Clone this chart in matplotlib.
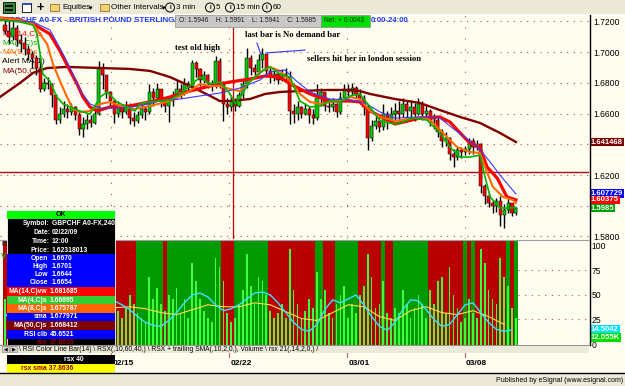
import matplotlib
matplotlib.use("Agg")
import matplotlib.pyplot as plt
from matplotlib.patches import Rectangle, Ellipse
from matplotlib.lines import Line2D

plt.rcParams['font.family'] = ['Liberation Sans', 'DejaVu Sans']

# ---------------- data ----------------
first_open = 1.7180
closes = [1.7140,1.7100,1.7160,1.7080,1.7060,1.7020,1.6990,1.6960,1.6900,1.6760,
          1.6800,1.6790,1.6720,1.6560,1.6600,1.6630,1.6610,1.6640,1.6590,1.6500,
          1.6530,1.6560,1.6540,1.6600,1.6900,1.6850,1.6740,1.6680,1.6600,1.6640,
          1.6610,1.6650,1.6570,1.6550,1.6590,1.6630,1.6610,1.6740,1.6700,1.6760,
          1.6680,1.6650,1.6680,1.6720,1.6760,1.6740,1.6790,1.6770,1.6930,1.6890,
          1.6820,1.6850,1.6800,1.6780,1.6940,1.6800,1.6660,1.6640,1.6680,1.6650,
          1.6720,1.6790,1.6960,1.6900,1.6870,1.6950,1.6990,1.6880,1.6840,1.6860,
          1.6820,1.6860,1.6840,1.6620,1.6600,1.6640,1.6600,1.6630,1.6590,1.6570,
          1.6700,1.6740,1.6650,1.6640,1.6660,1.6610,1.6700,1.6760,1.6740,1.6770,
          1.6730,1.6700,1.6640,1.6440,1.6520,1.6550,1.6510,1.6600,1.6560,1.6600,
          1.6620,1.6600,1.6660,1.6620,1.6640,1.6600,1.6660,1.6600,1.6620,1.6560,
          1.6560,1.6480,1.6420,1.6440,1.6340,1.6320,1.6360,1.6350,1.6370,1.6420,
          1.6380,1.6400,1.6130,1.6060,1.6020,1.6000,1.6030,1.5940,1.5970,1.6020,1.5950,1.5985]
highs = [1.7230,1.7200,1.7220,1.7180,1.7120,1.7100,1.7050,1.7010,1.6980,1.6982,
         1.6830,1.6840,1.6800,1.6730,1.6640,1.6680,1.6660,1.6670,1.6650,1.6620,
         1.6580,1.6600,1.6590,1.6640,1.6945,1.6930,1.6800,1.6750,1.6690,1.6680,
         1.6660,1.6680,1.6670,1.6610,1.6620,1.6660,1.6650,1.6790,1.6770,1.6800,
         1.6760,1.6700,1.6710,1.6750,1.6820,1.6790,1.6830,1.6810,1.6950,1.6945,
         1.6900,1.6880,1.6860,1.6820,1.6975,1.6960,1.6810,1.6700,1.6720,1.6700,
         1.6740,1.6820,1.7030,1.6980,1.6920,1.6990,1.7030,1.6990,1.6900,1.6890,
         1.6870,1.6890,1.6900,1.6880,1.6660,1.6680,1.6650,1.6670,1.6650,1.6630,
         1.6790,1.6770,1.6740,1.6680,1.6700,1.6670,1.6740,1.6790,1.6790,1.6800,
         1.6780,1.6760,1.6720,1.6660,1.6560,1.6600,1.6580,1.6660,1.6620,1.6640,
         1.6670,1.6680,1.6700,1.6680,1.6690,1.6670,1.6700,1.6680,1.6660,1.6630,
         1.6600,1.6570,1.6500,1.6480,1.6450,1.6370,1.6380,1.6380,1.6390,1.6440,
         1.6440,1.6430,1.6410,1.6140,1.6080,1.6040,1.6050,1.6060,1.6010,1.6050,1.6010,1.5991]
lows = [1.7120,1.7060,1.7080,1.7040,1.7000,1.6980,1.6950,1.6900,1.6850,1.6740,
        1.6750,1.6760,1.6640,1.6530,1.6540,1.6580,1.6570,1.6590,1.6560,1.6460,
        1.6450,1.6500,1.6510,1.6530,1.6590,1.6760,1.6700,1.6640,1.6540,1.6580,
        1.6570,1.6600,1.6530,1.6520,1.6540,1.6570,1.6560,1.6600,1.6650,1.6690,
        1.6640,1.6610,1.6545,1.6650,1.6700,1.6700,1.6720,1.6740,1.6760,1.6840,
        1.6780,1.6800,1.6770,1.6750,1.6770,1.6770,1.6550,1.6600,1.6620,1.6620,
        1.6640,1.6700,1.6770,1.6850,1.6830,1.6860,1.6900,1.6850,1.6800,1.6810,
        1.6790,1.6810,1.6810,1.6530,1.6540,1.6560,1.6570,1.6590,1.6540,1.6530,
        1.6560,1.6650,1.6620,1.6610,1.6620,1.6580,1.6600,1.6680,1.6700,1.6720,
        1.6700,1.6660,1.6590,1.6360,1.6420,1.6500,1.6480,1.6490,1.6500,1.6540,
        1.6560,1.6560,1.6580,1.6560,1.6570,1.6550,1.6590,1.6560,1.6570,1.6520,
        1.6500,1.6450,1.6380,1.6390,1.6300,1.6250,1.6300,1.6310,1.6330,1.6340,
        1.6340,1.6360,1.6080,1.6010,1.5990,1.5950,1.5960,1.5870,1.5855,1.5950,1.5930,1.5941]

ma14_bar = [-1.3,3.8,7.2,11.5,14.1,16.7,18.5,20.0,21.8,23.6,26.9,32.0,37.2,42.3,47.4,52.6,57.7,62.8,66.7,70.5,
            73.1,78.2,83.3,88.5,91.0,93.6,100.0,106.4,111.5,114.1,116.7,119.2,121.8,123.6,126.2,128.7,131.0]
ma14_val = [1.7223,1.7210,1.7184,1.7119,1.7008,1.6878,1.6793,1.6708,1.6643,1.6617,1.6643,1.6650,1.6676,1.6708,1.6747,1.6780,1.6806,1.6825,1.6845,1.6838,
            1.6793,1.6728,1.6682,1.6682,1.6676,1.6617,1.6532,1.6571,1.6578,1.6545,1.6474,1.6408,1.6376,1.6252,1.6180,1.6057,1.6038]
ma8_bar = [-1.3,3.8,7.2,10.8,12.3,14.1,15.9,17.4,19.2,21.8,24.4,26.9,29.5,33.3,37.2,42.3,47.4,50.0,52.6,55.1,
           57.7,60.3,62.8,65.4,67.9,70.5,73.1,75.6,78.2,80.8,83.3,85.9,88.5,91.0,93.6,96.2,100.0,106.4,109.0,112.3,
           115.9,119.2,121.8,123.1,125.1,127.7,130.3,131.0]
ma8_val = [1.7223,1.7210,1.7184,1.7053,1.6923,1.6812,1.6708,1.6630,1.6610,1.6617,1.6663,1.6676,1.6650,1.6630,1.6650,1.6682,1.6747,1.6793,1.6780,1.6780,
           1.6760,1.6747,1.6806,1.6871,1.6904,1.6878,1.6812,1.6728,1.6676,1.6663,1.6676,1.6682,1.6708,1.6695,1.6617,1.6578,1.6552,1.6578,1.6558,1.6474,
           1.6382,1.6350,1.6343,1.6252,1.6122,1.6057,1.6037,1.6018]
ma4_bar = [-1.3,3.8,7.2,8.2,9.0,9.7,11.5,13.3,14.9,16.7,19.2,21.8,24.4,26.2,28.7,31.3,33.3,34.6,37.2,39.7,
           42.3,44.9,47.4,50.0,52.6,55.1,57.7,59.0,60.3,62.8,66.7,67.9,70.5,73.1,75.6,78.2,80.8,83.3,85.9,88.5,
           91.0,93.6,96.2,100.0,101.3,104.6,108.2,111.5,114.1,116.7,119.2,121.8,123.1,124.4,126.9,129.5,131.0]
ma4_val = [1.7210,1.7197,1.7177,1.7119,1.6988,1.6858,1.6812,1.6708,1.6663,1.6643,1.6617,1.6597,1.6708,1.6741,1.6676,1.6643,1.6617,1.6663,1.6676,1.6682,
           1.6689,1.6728,1.6780,1.6838,1.6793,1.6806,1.6728,1.6663,1.6708,1.6812,1.6891,1.6904,1.6858,1.6838,1.6682,1.6643,1.6650,1.6682,1.6676,1.6715,
           1.6728,1.6643,1.6552,1.6532,1.6539,1.6571,1.6558,1.6474,1.6382,1.6317,1.6317,1.6330,1.6187,1.6057,1.5985,1.5985,1.5988]
sma_bar = [-1.3,7.2,11.5,14.1,16.7,19.2,21.8,24.4,29.5,34.6,39.7,44.9,50.0,55.1,60.3,65.4,67.9,71.8,74.4,78.2,
           83.3,88.5,92.3,96.2,100.0,106.4,111.5,115.4,117.9,121.8,124.4,126.9,129.5,131.0]
sma_val = [1.7210,1.7197,1.7145,1.7027,1.6897,1.6754,1.6663,1.6636,1.6636,1.6650,1.6682,1.6695,1.6715,1.6734,1.6767,1.6819,1.6871,1.6884,1.6819,1.6741,
           1.6695,1.6689,1.6669,1.6610,1.6571,1.6578,1.6571,1.6493,1.6448,1.6363,1.6285,1.6200,1.6122,1.6077]
ma50_bar = [-1.3,3.8,7.2,10.8,15.9,24.4,32.0,37.2,42.3,47.4,52.6,55.1,57.7,62.8,66.7,70.5,75.6,82.6,88.5,91.0,
            93.6,100.0,106.4,111.5,116.7,121.8,126.9,131.0]
ma50_val = [1.6708,1.6799,1.6865,1.6897,1.6904,1.6897,1.6891,1.6878,1.6838,1.6780,1.6715,1.6682,1.6682,1.6695,1.6728,1.6741,1.6747,1.6754,1.6754,1.6747,
            1.6728,1.6695,1.6669,1.6623,1.6578,1.6539,1.6474,1.6415]
alert_level = 1.6220

rsi_color = ("RRRRRRRRRR" "RRRRRGRRRR" "RGRGGGRRRR" "RRRRGGGGGG" "GRGGGGGGGG" "GGGGGGRRRG"
             "GGGGGGGGRR" "RRRRRRRRRR" "GGRRRGGGGG" "GRRRRRRGRR" "GGGGGGGGGR" "RRRRRRRRGR" "GRRRRRRRRGRG")
volume_k = [20,18,25,22,15,18,20,24,28,38, 22,18,30,35,20,15,18,14,20,30,
            25,18,12,20,40,30,22,18,26,15, 12,16,22,18,14,12,10,30,20,25,
            18,15,22,20,25,14,20,12,36,28, 20,15,12,10,38,34,28,14,10,12,
            18,24,40,26,18,30,28,22,15,12, 14,18,12,42,24,18,12,15,20,16,
            32,20,24,14,12,18,22,26,12,18, 14,22,26,40,30,16,18,28,14,12,
            16,14,24,18,12,16,22,18,12,24, 18,28,30,14,34,22,16,10,12,20,
            14,12,42,36,24,20,18,38,30,26,16,12]
rsx_bar = list(range(0, 132, 2))
rsx_val = [30,25,20,18,20,25,30,35,30,28,32,
           38,42,45,44,40,35,28,22,19,18,
           24,32,42,50,52,48,40,34,36,40,
           46,52,53,50,42,32,22,15,13,20,
           35,45,42,46,50,40,28,18,14,22,
           35,45,44,35,25,18,20,30,40,42,
           32,22,15,13,14.5]
rsx_sma_bar = list(range(0, 132, 4))
rsx_sma_val = [30,28,27,27,28,30,34,37,38,36,32,30,35,40,38,38,42,40,33,26,24,32,40,38,28,24,34,38,32,30,34,28,20]

price_ticks = [1.58, 1.62, 1.66, 1.68, 1.70, 1.72]
grid_levels = [1.58, 1.60, 1.62, 1.64, 1.66, 1.68, 1.70, 1.72]
week_bars = [27.2, 57.5, 87.7, 117.9]
week_labels = ["02/15", "02/22", "03/01", "03/08"]
session_bar = 58.5

# ---------------- figure helpers ----------------
W, H = 625, 386
fig = plt.figure(figsize=(W / 100, H / 100), dpi=100)
fig.patch.set_facecolor('#ECE9D8')
CREAM = '#FFFCF0'


def fr(x0, y0, x1, y1):
    return [x0 / W, 1 - y1 / H, (x1 - x0) / W, (y1 - y0) / H]


def fbox(x0, y0, x1, y1, fc, ec='none', lw=0, z=5):
    fig.add_artist(Rectangle((x0 / W, 1 - y1 / H), (x1 - x0) / W, (y1 - y0) / H,
                             transform=fig.transFigure, fc=fc, ec=ec, lw=lw, zorder=z))


def ftxt(x, y, s, z=6, **kw):
    kw.setdefault('va', 'center')
    fig.text(x / W, 1 - y / H, s, zorder=z, **kw)


def fline(xs, ys, z=5, **kw):
    fig.add_artist(Line2D([x / W for x in xs], [1 - y / H for y in ys],
                          transform=fig.transFigure, zorder=z, **kw))


fbox(0, 14, 625, 373, CREAM, z=-1)

XLIM = (-1.282, 149.74)
DOT = (0, (1, 5))
GRIDC = '#B05050'

# ---------------- main price pane ----------------
ax = fig.add_axes(fr(0, 15, 589, 239))
ax.set_facecolor(CREAM)
ax.set_xlim(*XLIM)
ax.set_ylim(1.57831, 1.72423)
for s in ax.spines.values():
    s.set_visible(False)
ax.set_xticks([])
ax.set_yticks(price_ticks)
ax.set_yticklabels(['%.4f' % v for v in price_ticks])
ax.tick_params(axis='y', left=False, right=False, labelleft=False, labelright=True,
               length=0, pad=3, labelsize=6.2)
for lv in grid_levels:
    ax.axhline(lv, color=GRIDC, lw=0.8, ls=DOT, zorder=0.5)
for wb in week_bars:
    ax.axvline(wb, color=GRIDC, lw=0.8, ls=(0, (1, 9)), zorder=0.5)
ax.axvline(session_bar, color='#C00000', lw=0.9, zorder=0.6)
ax.axhline(alert_level, color='#A01010', lw=1.0, zorder=0.6)

N = len(closes)
idx = list(range(N))
opens = [first_open] + closes[:-1]
cols = ['#00CC00' if c >= o else '#FF0000' for o, c in zip(opens, closes)]
ax.vlines(idx, lows, highs, color='black', lw=1.0, zorder=2.5)
ax.bar(idx, [c - o for o, c in zip(opens, closes)], bottom=opens, width=0.8,
       color=cols, edgecolor='black', linewidth=0.35, zorder=3)

ax.plot(ma50_bar, ma50_val, color='#800000', lw=1.7, zorder=3.5, solid_joinstyle='round')
ax.plot(ma14_bar, ma14_val, color='#FF0000', lw=2.3, zorder=4, solid_joinstyle='round')
ax.plot(ma8_bar, ma8_val, color='#FF6A00', lw=1.5, zorder=4.2, solid_joinstyle='round')
ax.plot(sma_bar, sma_val, color='#3A3AFF', lw=0.8, zorder=4.3)
ax.plot(ma4_bar, ma4_val, color='#00B400', lw=1.2, zorder=4.4, solid_joinstyle='round')

# title & legend (under candles)
tr = ax.transAxes
ax.text(0.005, 0.975, 'GBPCHF A0-FX - BRITISH POUND STERLING/', transform=tr, color='#1A3CFF',
        fontsize=5.8, fontweight='bold', va='center', zorder=1.5)
leg = [('MA(14,C)s', '#FF0000'), ('MA(4,C)s', '#00B000'), ('MA(8,C)s', '#FF6A00'),
       ('Alert MA(1)', '#000000'), ('MA(50,C)s', '#800000')]
for k, (t, c) in enumerate(leg):
    ax.text(0.004, 0.915 - k * 0.0415, t, transform=tr, color=c, fontsize=6, va='center', zorder=2)

# annotations
ax.text(43.6, 1.7027, 'test old high', fontsize=6.2, fontweight='bold', family='Liberation Serif',
        va='center', zorder=6)
ax.text(61.5, 1.7110, 'last bar is No demand bar', fontsize=6.2, fontweight='bold',
        family='Liberation Serif', va='center', zorder=6)
ax.text(77.4, 1.6955, 'sellers hit her in london session', fontsize=6.2, fontweight='bold',
        family='Liberation Serif', va='center', zorder=6)
ax.plot([64.6, 65.6], [1.7060, 1.6985], color='#3030FF', lw=0.8, zorder=6)
ax.plot([66.9, 76.9], [1.6995, 1.7014], color='#3030FF', lw=0.8, zorder=6)

# right value boxes
ytr = ax.get_yaxis_transform()
for val, txt, bg in [(1.641468, '1.641468', '#800000'), (1.607729, '1.607729', '#0000FF'),
                     (1.60375, '1.60375', '#FF0000'), (1.5985, '1.5985', '#00A000')]:
    ax.text(1.003, val, txt, transform=ytr, color='white', fontsize=5.6, fontweight='bold',
            va='center', ha='left', clip_on=False, zorder=8,
            bbox=dict(boxstyle='square,pad=0.12', fc=bg, ec='none'))

# ---------------- lower pane ----------------
axv = fig.add_axes(fr(0, 240, 589, 345))
axv.set_zorder(1)
axv.set_facecolor(CREAM)
axv.set_xlim(*XLIM)
axv.set_ylim(0, 46)
for s in axv.spines.values():
    s.set_visible(False)
axv.set_xticks([])
axv.set_yticks([])
for i, c in enumerate(rsi_color):
    axv.axvspan(i - 0.5, i + 0.5, color='#B80000' if c == 'R' else '#009A00', lw=0, zorder=1)
axv.bar(idx, volume_k, width=0.45, color='#3CFF3C', zorder=2)

axr = fig.add_axes(fr(0, 240, 589, 345))
axr.set_zorder(2)
axr.patch.set_alpha(0)
axr.set_xlim(*XLIM)
axr.set_ylim(-1.02, 106.1)
for s in axr.spines.values():
    s.set_visible(False)
axr.set_xticks([])
axr.set_yticks([0, 25, 50, 75, 100])
axr.tick_params(axis='y', left=False, right=False, labelleft=False, labelright=True,
                length=0, pad=2, labelsize=6.2)
for lv in [25, 50, 75]:
    axr.plot([131.6, XLIM[1]], [lv, lv], color=GRIDC, lw=0.8, ls=DOT)
axr.axvline(session_bar, color='#C00000', lw=0.9)
axr.plot(rsx_sma_bar, rsx_sma_val, color='#FFE14D', lw=0.8)
axr.plot(rsx_bar, rsx_val, color='#3FE0FF', lw=1.0)
ytr2 = axr.get_yaxis_transform()
axr.text(1.003, 15.0, '14.5042', transform=ytr2, color='white', fontsize=5.6, fontweight='bold',
         va='center', clip_on=False, bbox=dict(boxstyle='square,pad=0.12', fc='#00E0FF', ec='none'))
axr.text(1.003, 6.5, '12.055K', transform=ytr2, color='white', fontsize=5.6, fontweight='bold',
         va='center', clip_on=False, bbox=dict(boxstyle='square,pad=0.12', fc='#00E000', ec='none'))

# ---------------- date axis ----------------
axd = fig.add_axes(fr(0, 353, 589, 372))
axd.set_facecolor(CREAM)
axd.set_xlim(*XLIM)
axd.set_ylim(0, 1)
axd.axis('off')
for wb, lab in zip(week_bars, week_labels):
    axd.plot([wb, wb], [0.78, 1.0], color='#C06060', lw=0.8)
    axd.text(wb + 0.3, 0.45, lab, fontsize=6, fontweight='bold', va='center', ha='left')

# frame lines
fline([589.5, 589.5], [15, 345], color='black', lw=1.0, z=3)
fline([0, 589], [239.5, 239.5], color='#A0A0A0', lw=0.8, z=3)

# ---------------- toolbar ----------------
fline([0, 625], [14.5, 14.5], color='white', lw=0.8, z=2)
fbox(3, 2, 15, 13, '#2E8B2E', ec='black', lw=0.6, z=2)
fbox(5, 5, 13, 7, 'black', z=2.1)
fbox(5, 9, 13, 11, 'black', z=2.1)
fbox(22, 3, 31, 12, 'white', ec='black', lw=0.6, z=2)
fbox(22, 3, 31, 5, '#3050C0', z=2.1)
ftxt(40, 7.5, '+', size=9, weight='bold', ha='center')
for fx0 in (50, 100):
    fbox(fx0, 4, fx0 + 9, 11, '#F3D36B', ec='#806020', lw=0.5, z=2)
ftxt(62, 7.5, 'Equities', size=5.8)
ftxt(89, 8, '\u25be', size=5, family='DejaVu Sans')
ftxt(111, 7.5, 'Other Intervals', size=5.8)
ftxt(162, 8, '\u25be', size=5, family='DejaVu Sans')
for cx, lab in [(170, '3 min'), (210, '5'), (230, '15 min'), (267, '60')]:
    fig.add_artist(Ellipse((cx / W, 1 - 7.5 / H), 9 / W, 9 / H, transform=fig.transFigure,
                           fc='none', ec='black', lw=0.7, zorder=2))
    ftxt(cx, 7.5, 'I', size=4.5, weight='bold', ha='center')
    ftxt(cx + 6, 7.5, lab, size=5.8)

# ---------------- price header ----------------
fbox(175, 15, 321, 27, '#C8C8C8', ec='#909090', lw=0.5, z=5)
ftxt(179, 21, 'O: 1.5946    H: 1.5991    L: 1.5941    C: 1.5985', size=4.8, color='#202020')
fbox(321, 15, 370, 27, '#00E000', ec='#909090', lw=0.5, z=5)
ftxt(324.5, 21, 'Net: + 0.0043', size=4.8, color='#003000')
ftxt(371, 21, '0:00-24:00', size=5.6, weight='bold', color='#1A3CFF')

# ---------------- data window overlay ----------------
fbox(7, 210, 115, 345, 'black', ec='white', lw=0.6, z=5)
fbox(7, 211, 115, 219, '#00FF00', z=5.1)
ftxt(61, 215, 'OK', size=5, weight='bold', ha='center', color='black')
rows_black = [('Symbol:', 'GBPCHF A0-FX,240', 223.5), ('Date:', '02/22/09', 232.5),
              ('Time:', '12:00', 241.5), ('Price:', '1.62318013', 250.5)]
for lab, val, yy in rows_black:
    ftxt(50, yy, lab, size=4.9, weight='bold', color='white', ha='right')
    ftxt(52, yy, val, size=4.9, weight='bold', color='white')
fbox(7, 254, 115, 287, '#0000FF', z=5.1)
for lab, val, yy in [('Open', '1.6670', 258.5), ('High', '1.6701', 266.5),
                     ('Low', '1.6644', 274.5), ('Close', '1.6654', 282.8)]:
    ftxt(48, yy, lab, size=4.9, weight='bold', color='white', ha='right')
    ftxt(52, yy, val, size=4.9, weight='bold', color='white')
color_rows = [('MA(14,C)vw', '1.681685', '#FF0000', 287, 296),
              ('MA(4,C)s', '1.66695', '#33CC33', 296, 304),
              ('MA(8,C)s', '1.675787', '#FF6600', 304, 313),
              ('sma', '1.677971', '#0000FF', 313, 321),
              ('MA(50,C)s', '1.668412', '#800000', 321, 330),
              ('RSI clb', '45.6521', '#0000FF', 330, 339)]
for lab, val, bg, y0, y1 in color_rows:
    fbox(7, y0, 115, y1, bg, z=5.1)
    ftxt(47, (y0 + y1) / 2, lab, size=4.9, weight='bold', color='white', ha='right')
    ftxt(49.5, (y0 + y1) / 2, val, size=4.9, weight='bold', color='white')
ftxt(47, 343, 'rsx', size=4.9, weight='bold', color='#A00000', ha='right')
ftxt(49.5, 343, '37.8636', size=4.9, weight='bold', color='#A00000')

# tab row
fbox(0, 345, 589, 353, '#ECE9D8', z=7)
fline([0, 589], [345.3, 345.3], color='#808080', lw=0.6, z=7.1)
fbox(2, 346, 9, 352, '#D4D0C8', ec='#808080', lw=0.4, z=7.1)
fbox(10, 346, 17, 352, '#D4D0C8', ec='#808080', lw=0.4, z=7.1)
ftxt(5.5, 349, '\u25c0', size=3.5, ha='center', family='DejaVu Sans', z=7.2)
ftxt(13.5, 349, '\u25b6', size=3.5, ha='center', family='DejaVu Sans', z=7.2)
ftxt(19, 349.2, '\\ RSI Color Line Bar(14) \\ RSX(,10,60,40,) \\ RSX + trailing SMA(,10,2,0,), Volume '
     '\\ rsx 21(,14,2,0,) /', size=4.9, z=7.2)

# rsx rows below
fbox(7, 355, 115, 364, 'black', z=7)
ftxt(74, 359.5, 'rsx 40', size=4.9, weight='bold', color='white', ha='center', z=7.2)
fbox(7, 364, 115, 373, '#FFFF00', z=7)
ftxt(47, 368.5, 'rsx sma 37.8636', size=4.9, weight='bold', color='#A00000', ha='center', z=7.2)

# lower left panel letters
ftxt(1, 244, 'R', size=5.5, weight='bold', color='#303030', z=6)
ftxt(1, 256, 'V', size=5.5, weight='bold', color='#00C000', z=6)

# status bar
fbox(0, 373, 625, 386, '#ECE9D8', z=7)
fline([0, 625], [373, 373], color='black', lw=1.0, z=7.1)
ftxt(623, 380, 'Published by eSignal (www.esignal.com)', size=5.0, ha='right', z=7.2)

fig.savefig('out.png', dpi=100, facecolor=fig.get_facecolor())
